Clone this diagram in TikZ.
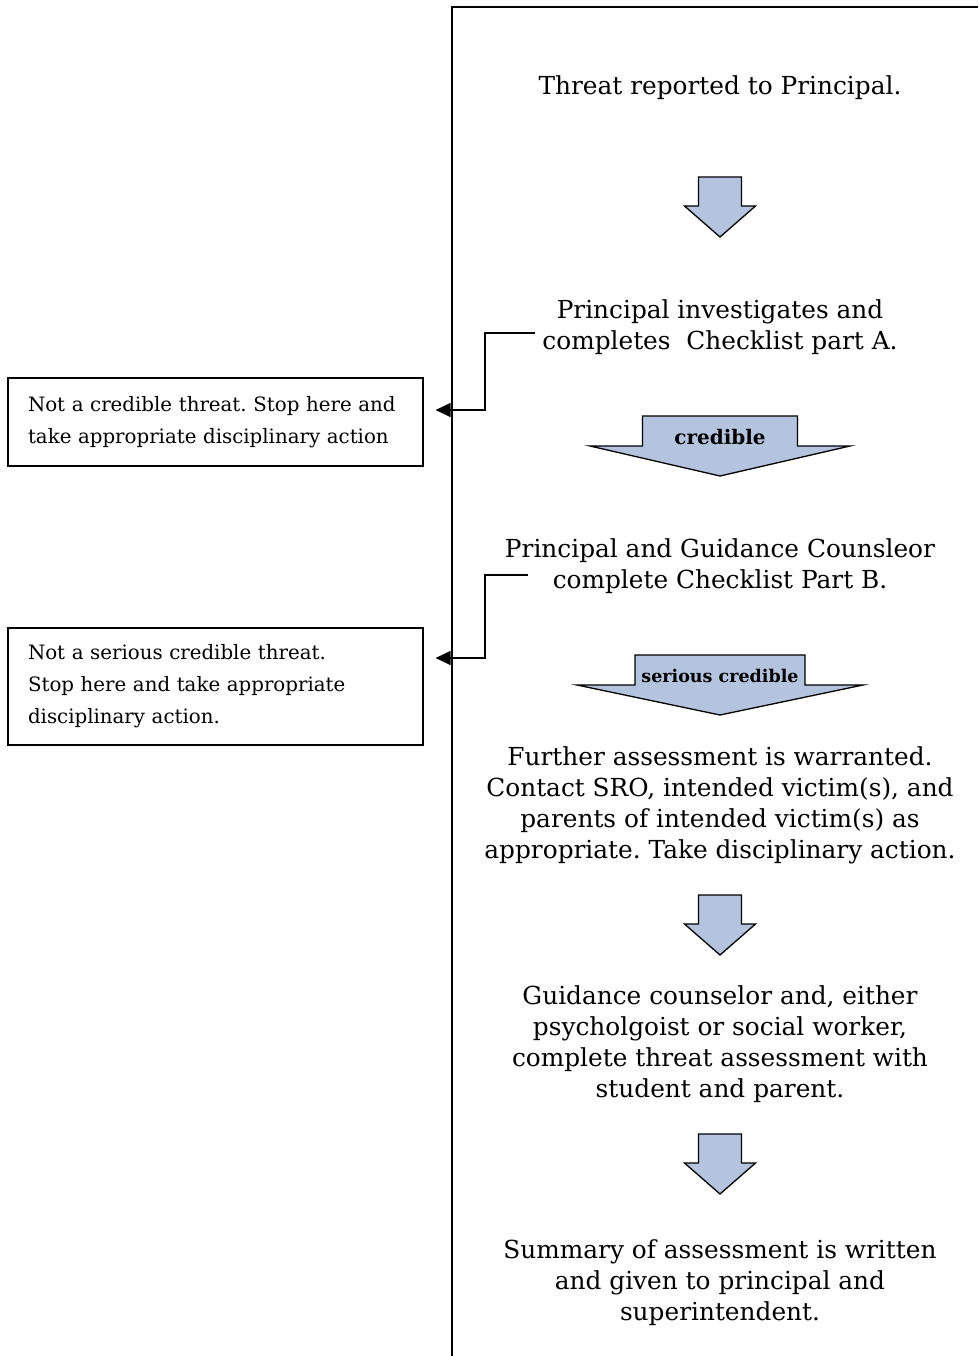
\documentclass[tikz,border=0pt]{standalone}
\usepackage{fontspec}
\setmainfont{DejaVu Serif}
\usetikzlibrary{positioning,arrows.meta}
\definecolor{flowblue}{RGB}{180,196,222}
\frenchspacing

% down arrow: centre x, top, shaft half width, head half width, head base, tip
\newcommand{\flowarrow}[6]{%
    \draw[flow] ({#1-#3},#2) -- ({#1+#3},#2) -- ({#1+#3},#5) -- ({#1+#4},#5)
        -- (#1,#6) -- ({#1-#4},#5) -- ({#1-#3},#5) -- cycle;}

\begin{document}
\begin{tikzpicture}[x=1pt, y=-1pt]
    \tikzset{
        txt/.style      =   { align=center
                            , inner sep=0pt
                            , font=\fontsize{24.8}{31}\selectfont
        }
        , side/.style   =   { rectangle
                            , draw=black
                            , line width=1.2pt
                            , minimum width=415pt
                            , text width=375pt
                            , inner xsep=20pt
                            , align=left
                            , font=\fontsize{19.8}{32}\selectfont
        }
        , flow/.style   =   { fill=flowblue
                            , draw=black
                            , line width=1.3pt
                            , line join=miter
        }
        , tag/.style    =   { inner sep=0pt
                            , font=\bfseries\fontsize{20}{22}\selectfont
        }
        , link/.style   =   { line width=1.5pt
                            , -{Triangle[length=15pt, width=14pt]}
                            , shorten >= 12pt
        }
    }
    \useasboundingbox (0,0) rectangle (978,1356);

    % frame
    \draw[line width=2pt] (452,1356) -- (452,7) -- (978,7);

    \node(t1)[txt] at (720,88)   {Threat reported to Principal.};
    \node(t2)[txt] at (720,327)  {Principal investigates and\\completes \ Checklist part A.};
    \node(t3)[txt] at (720,566)  {Principal and Guidance Counsleor\\complete Checklist Part B.};
    \node(t4)[txt] at (720,805)  {Further assessment is warranted.\\Contact SRO, intended victim(s), and\\parents of intended victim(s) as\\appropriate. Take disciplinary action.};
    \node(t5)[txt] at (720,1044) {Guidance counselor and, either\\psycholgoist or social worker,\\complete threat assessment with\\student and parent.};
    \node(t6)[txt] at (720,1283) {Summary of assessment is written\\and given to principal and\\superintendent.};

    \flowarrow{720}{177}{21.5}{35.5}{206}{237}
    \flowarrow{720}{416}{77.5}{130}{446}{476}
    \flowarrow{720}{655}{85}{143}{685}{715}
    \flowarrow{720}{895}{21.5}{35.5}{924}{955}
    \flowarrow{720}{1134}{21.5}{35.5}{1163}{1194}

    \node(a2)[tag] at (720,437) {credible};
    \node(a3)[tag, font=\bfseries\fontsize{17.5}{19}\selectfont] at (720,676) {serious credible};

    \node(b1)[side, minimum height=88pt]  at (215.5,422)   {Not a credible threat. Stop here and take appropriate disciplinary action};
    \node(b2)[side, minimum height=117pt] at (215.5,686.5) {Not a serious credible threat.\\Stop here and take appropriate\\disciplinary action.};

    \coordinate(c1) at (535,333);
    \coordinate(c2) at (528,575);
    \draw[link] (c1) -- ++(-50,0) |- ([yshift=12pt]b1.east);
    \draw[link] (c2) -- ++(-43,0) |- ([yshift=28.5pt]b2.east);
\end{tikzpicture}
\end{document}
